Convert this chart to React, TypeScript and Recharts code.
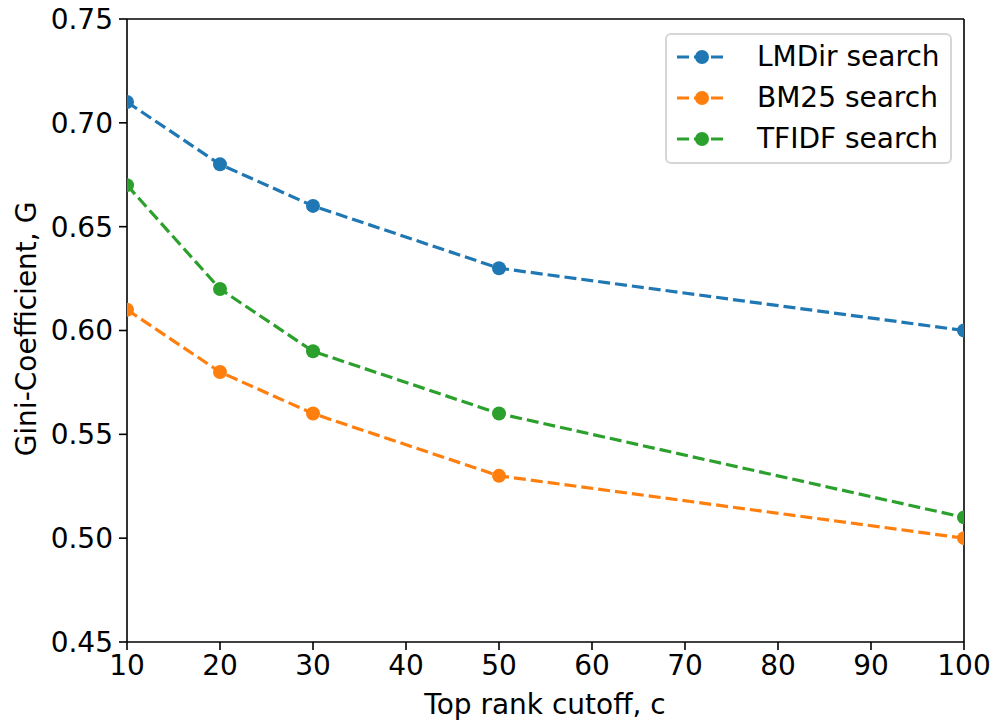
import {
	LineChart,
	Line,
	XAxis,
	YAxis,
	Legend,
	Label,
	ReferenceLine,
} from "recharts";

const cutoffs = [10, 20, 30, 50, 100];
const lmdir = [0.71, 0.68, 0.66, 0.63, 0.6];
const bm25 = [0.61, 0.58, 0.56, 0.53, 0.5];
const tfidf = [0.67, 0.62, 0.59, 0.56, 0.51];
const xTicks = [10, 20, 30, 40, 50, 60, 70, 80, 90, 100];
const yTicks = [0.45, 0.5, 0.55, 0.6, 0.65, 0.7, 0.75];

const series = [
	{ key: "lmdir", name: "LMDir search", color: "#1f77b4" },
	{ key: "bm25", name: "BM25 search", color: "#ff7f0e" },
	{ key: "tfidf", name: "TFIDF search", color: "#2ca02c" },
];

const data = cutoffs.map((c, i) => ({
	c,
	lmdir: lmdir[i],
	bm25: bm25[i],
	tfidf: tfidf[i],
}));

const FONT = "'DejaVu Sans', sans-serif";
const FS = 28;
const tickStyle = { fill: "#000", fontSize: FS, fontFamily: FONT };

function LegendBox() {
	return (
		<div
			style={{
				border: "2px solid #d6d6d6",
				borderRadius: 6,
				background: "#fff",
				padding: "1px 10px 3px 10px",
				fontFamily: FONT,
				fontSize: FS,
				color: "#000",
				lineHeight: 1,
			}}
		>
			{series.map((s) => (
				<div
					key={s.key}
					style={{ display: "flex", alignItems: "center", height: 41 }}
				>
					<svg width={52} height={20} style={{ marginRight: 28 }}>
						<line
							x1={0}
							y1={10}
							x2={50}
							y2={10}
							stroke={s.color}
							strokeWidth={3.2}
							strokeDasharray="12 5"
						/>
						<circle cx={25} cy={10} r={7} fill={s.color} />
					</svg>
					<span>{s.name}</span>
				</div>
			))}
		</div>
	);
}

export default function App() {
	return (
		<div
			style={{
				position: "absolute",
				left: 0,
				top: 0,
				width: 994,
				height: 721,
				background: "#fff",
			}}
		>
			<LineChart
				width={994}
				height={721}
				data={data}
				margin={{ top: 19, right: 30, left: 0, bottom: 0 }}
			>
				<XAxis
					dataKey="c"
					type="number"
					domain={[10, 100]}
					ticks={xTicks}
					height={79}
					tick={tickStyle}
					tickLine={{ stroke: "#000", strokeWidth: 1.6 }}
					tickSize={8}
					tickMargin={5}
					axisLine={{ stroke: "#000", strokeWidth: 1.6 }}
					allowDataOverflow
				>
					<Label
						content={() => (
							<text
								x={545}
								y={704}
								textAnchor="middle"
								dominantBaseline="central"
								style={{ fill: "#000", fontSize: FS, fontFamily: FONT }}
							>
								Top rank cutoff, c
							</text>
						)}
					/>
				</XAxis>
				<YAxis
					type="number"
					domain={[0.45, 0.75]}
					ticks={yTicks}
					width={127}
					tick={tickStyle}
					tickFormatter={(v: number) => v.toFixed(2)}
					tickLine={{ stroke: "#000", strokeWidth: 1.6 }}
					tickSize={8}
					tickMargin={6}
					axisLine={{ stroke: "#000", strokeWidth: 1.6 }}
				>
					<Label
						content={() => (
							<text
								x={26}
								y={329}
								transform="rotate(-90 26 329)"
								textAnchor="middle"
								dominantBaseline="central"
								style={{ fill: "#000", fontSize: FS, fontFamily: FONT }}
							>
								Gini-Coefficient, G
							</text>
						)}
					/>
				</YAxis>
				<ReferenceLine y={0.75} stroke="#000" strokeWidth={1.6} />
				<ReferenceLine x={100} stroke="#000" strokeWidth={1.6} />
				<Legend
					layout="horizontal"
					verticalAlign="middle"
					align="center"
					wrapperStyle={{ top: 33, left: 665, width: "auto", right: "auto" }}
					content={() => <LegendBox />}
				/>
				{series.map((s) => (
					<Line
						key={s.key}
						dataKey={s.key}
						name={s.name}
						stroke={s.color}
						strokeWidth={3.2}
						strokeDasharray="12 5"
						dot={{ r: 7, fill: s.color, stroke: s.color, strokeWidth: 0 }}
						activeDot={false}
						isAnimationActive={false}
					/>
				))}
			</LineChart>
		</div>
	);
}
